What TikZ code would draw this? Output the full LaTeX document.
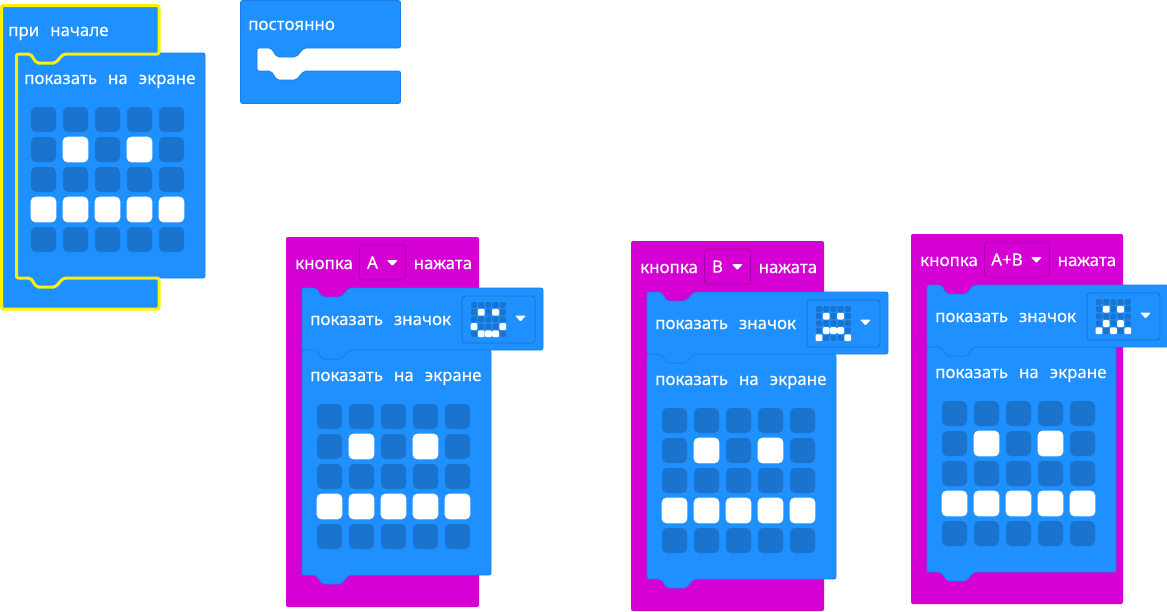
\documentclass[tikz,border=0pt]{standalone}
\usepackage{fontspec}
\setmainfont[WordSpace=2.5,FakeBold=0.35]{Noto Sans}
\usetikzlibrary{calc,positioning}

\definecolor{blockblue}{HTML}{1E90FF}
\definecolor{blockedge}{HTML}{1A7FE6}
\definecolor{ledoff}{HTML}{1A73CC}
\definecolor{eventpurple}{HTML}{D400D4}
\definecolor{eventedge}{HTML}{AA00AA}
\definecolor{selectyellow}{HTML}{FFF200}

% notch of a block, left to right and right to left
\newcommand{\nubright}[2]{-- (#1+14,#2) -- (#1+20,#2+9) -- (#1+39,#2+9) -- (#1+47,#2)}
\newcommand{\nubleft}[2]{-- (#1+47,#2) -- (#1+39,#2+9) -- (#1+20,#2+9) -- (#1+14,#2)}

% x, y, pitch x, pitch y, size, lit cells
\newcommand{\ledgrid}[6]{
  \foreach \r in {0,...,4}
    \foreach \c in {0,...,4}
      \fill[ledoff, rounded corners=#5*0.2] ({#1+\c*#3},{#2+\r*#4}) rectangle +(#5,#5);
  \foreach \r/\c in {#6}
    \fill[white, rounded corners=#5*0.2] ({#1+\c*#3-0.4},{#2+\r*#4-0.4}) rectangle +(#5+0.8,#5+0.8);
}

% name, x, y: the block with the big grid
\newcommand{\screenblock}[3]{
  \begin{scope}[shift={(#2,#3)}]
    \draw[block] (0,0) \nubright{0}{0} -- (189,0) -- (189,225) \nubleft{0}{225} -- (0,225) -- cycle;
    \node[blocktext] (#1-text) at (8,31) {показать на экране};
    \ledgrid{15}{54}{32}{30}{25}{1/1,1/3,3/0,3/1,3/2,3/3,3/4}
  \end{scope}
}

% name, x, y, width, dropdown width, dropdown text, icon cells
\newcommand{\eventblock}[7]{
  \begin{scope}[shift={(#2,#3)}]
    \fill[eventpurple, rounded corners=2pt] (0,0) rectangle (#4,370);
    \node[blocktext] (#1-press) at (9,32) {кнопка};
    \node[dropbox, minimum width=#5] (#1-drop) at ({73.5+#5/2},25.5) {};
    \node[blocktext, anchor=center] (#1-key) at ($(#1-drop)+(-10,0)$) {#6};
    \fill[white, rounded corners=1pt] ($(#1-drop.east)+(-19,-2.5)$) -- +(11,0) -- +(5.5,6) -- cycle;
    \node[blocktext] (#1-done) at ({73.5+#5+8},32) {нажата};
  \end{scope}
  \screenblock{#1-screen}{#2+16}{#3+113}
  \begin{scope}[shift={(#2+16,#3+51)}]
    \draw[block] (0,0) \nubright{0}{0} -- (241,0) -- (241,62) -- (47,62) -- (39,71) -- (20,71) -- (14,62) -- (0,62) -- cycle;
    \node[blocktext] (#1-icontext) at (8,37) {показать значок};
    \node[iconbox] (#1-icon) at (196.5,31.5) {};
    \ledgrid{169}{14}{7.2}{7.2}{6}{#7}
    \fill[white, rounded corners=1pt] (213,27.5) -- +(11,0) -- +(5.5,6) -- cycle;
  \end{scope}
}

\begin{document}
\begin{tikzpicture}
  [x=1pt, y=-1pt,
    block/.style={fill=blockblue, draw=blockedge, line width=0.7pt, rounded corners=2pt},
    blocktext/.style={text=white, anchor=base west, inner sep=0pt, font=\fontsize{16.9}{20}\selectfont},
    dropbox/.style={draw=eventedge, fill=eventpurple, line width=0.7pt, rounded corners=3pt, minimum height=35pt, inner sep=0pt},
    iconbox/.style={draw=ledoff, fill=blockblue, line width=0.8pt, rounded corners=3pt, minimum width=73pt, minimum height=47pt, inner sep=0pt},
  ]
  \useasboundingbox (0,0) rectangle (1167,611);

  % start block
  \screenblock{start-screen}{16}{53}
  \draw[draw=selectyellow, fill=blockblue, line width=3pt, rounded corners=2pt]
    (1.5,5.5) -- (159,5.5) -- (159,54) \nubleft{16.5}{54} -- (16.5,54) -- (16.5,278)
    \nubright{16.5}{278} -- (159,278) -- (159,309) -- (1.5,309) -- cycle;
  \node[blocktext] (start) at (8,36) {при начале};

  % forever block
  \draw[block] (240.5,0.5) -- (400.5,0.5) -- (400.5,48) \nubleft{257}{48} -- (257,48) -- (257,71)
    \nubright{257}{71} -- (400.5,71) -- (400.5,103.5) -- (240.5,103.5) -- cycle;
  \node[blocktext] (forever) at (248,30) {постоянно};

  % button blocks
  \eventblock{btna}{286}{237}{193}{46}{A}{1/1,1/3,3/0,3/4,4/1,4/2,4/3}
  \eventblock{btnb}{631}{241}{193}{46}{B}{1/1,1/3,3/1,3/2,3/3,4/0,4/4}
  \eventblock{btnab}{911}{234}{212}{65}{A+B}{1/1,1/3,3/1,3/3,4/0,4/2,4/4}
\end{tikzpicture}
\end{document}
